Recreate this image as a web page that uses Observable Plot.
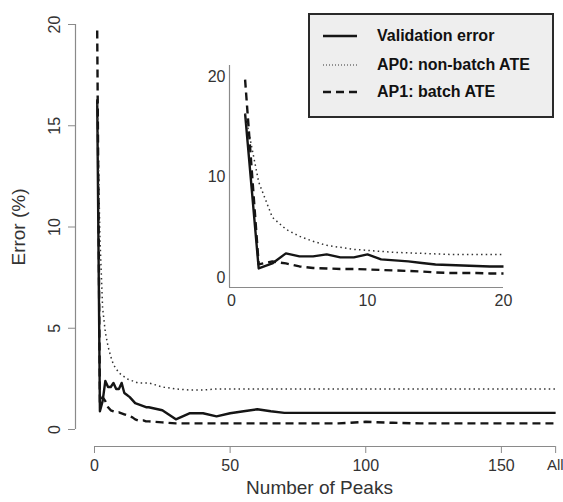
<!DOCTYPE html>
<html>
<head>
<meta charset="utf-8">
<script src="https://cdn.jsdelivr.net/npm/d3@7"></script>
<script src="https://cdn.jsdelivr.net/npm/@observablehq/plot@0.6"></script>
<style>
  html, body { margin: 0; padding: 0; background: #fff; }
  #wrap { position: relative; width: 563px; height: 502px; font-family: "Liberation Sans", Arial, sans-serif; }
  #wrap > svg, #wrap > .layer { position: absolute; left: 0; top: 0; }
  #legend { position: absolute; left: 308px; top: 13px; width: 242px; height: 101px; background: #eeeeee; border: 2px solid #2a2a2a; box-sizing: content-box; }
  #legend .row { position: absolute; left: 12px; height: 20px; display: flex; align-items: center; }
  #legend .row span { font-weight: bold; font-size: 16px; color: #111; margin-left: 19px; }
</style>
</head>
<body>
<div id="wrap"></div>
<script>
// ---- data ----
const peaks = [1,2,3,4,5,6,7,8,9,10,11,12,13,14,15,16,17,18,19,20,25,30,35,40,45,50,55,60,65,70,80,90,100,110,120,130,140,150,160,170];
const validationError = [16.3,0.9,1.4,2.4,2.1,2.1,2.3,2.0,2.0,2.3,1.8,1.7,1.6,1.45,1.3,1.25,1.2,1.15,1.1,1.1,0.95,0.5,0.8,0.8,0.65,0.8,0.9,1.0,0.9,0.82,0.82,0.82,0.82,0.82,0.82,0.82,0.82,0.82,0.82,0.82];
const ap0NonBatch = [16.3,9.5,6.0,4.8,4.1,3.6,3.2,3.0,2.8,2.7,2.6,2.5,2.45,2.4,2.35,2.3,2.3,2.3,2.3,2.3,2.1,2.0,1.95,1.95,2.0,2.0,2.0,2.0,2.0,2.0,2.0,2.0,2.0,2.0,2.0,2.0,2.0,2.0,2.0,2.0];
const ap1Batch = [19.7,1.3,1.6,1.4,1.1,0.95,0.9,0.85,0.85,0.8,0.75,0.7,0.65,0.6,0.5,0.45,0.45,0.45,0.4,0.4,0.35,0.3,0.3,0.3,0.3,0.3,0.3,0.3,0.3,0.3,0.3,0.3,0.38,0.33,0.3,0.3,0.3,0.3,0.3,0.3];
const seriesNames = ["Validation error", "AP0: non-batch ATE", "AP1: batch ATE"];
const mainXTicks = [0, 50, 100, 150, 170];
const mainXTickLabels = ["0", "50", "100", "150", "All"];
const mainYTicks = [0, 5, 10, 15, 20];
const insetXTicks = [0, 10, 20];
const insetYTicks = [0, 10, 20];

// ---- build rows ----
const seriesValues = [validationError, ap0NonBatch, ap1Batch];
const rows = [];
seriesNames.forEach((s, i) => peaks.forEach((p, j) => rows.push({series: s, peaks: p, value: seriesValues[i][j]})));
const styles = {
  "Validation error": {strokeWidth: 2.4, strokeDasharray: null, stroke: "#151515"},
  "AP0: non-batch ATE": {strokeWidth: 1.5, strokeDasharray: "1.5,3.2", stroke: "#333"},
  "AP1: batch ATE": {strokeWidth: 2.4, strokeDasharray: "8,5", stroke: "#151515"}
};
const axisColor = "#8a8a8a";
const textColor = "#333";

function lineMarks(data) {
  return seriesNames.map(s => Plot.line(data.filter(d => d.series === s), {
    x: "peaks", y: "value", stroke: styles[s].stroke,
    strokeWidth: styles[s].strokeWidth, strokeDasharray: styles[s].strokeDasharray,
    strokeLinejoin: "round", strokeLinecap: "butt"
  }));
}

// ---- main plot ----
const xMin = -7, xMax = 172.9, yMin = -0.84, yMax = 20.84;
const main = Plot.plot({
  width: 563, height: 502,
  marginLeft: 75, marginRight: 0, marginTop: 7, marginBottom: 56,
  style: {fontFamily: "Liberation Sans, Arial, sans-serif", background: "transparent"},
  x: {domain: [xMin, xMax]},
  y: {domain: [yMin, yMax]},
  marks: [
    Plot.ruleX([xMin], {y1: mainYTicks[0], y2: mainYTicks[mainYTicks.length - 1], stroke: axisColor, strokeWidth: 1.2}),
    Plot.ruleY([yMin], {x1: mainXTicks[0], x2: mainXTicks[mainXTicks.length - 1], stroke: axisColor, strokeWidth: 1.2}),
    Plot.axisY({ticks: mainYTicks, tickSize: 7, tickRotate: -90, tickPadding: 9, stroke: axisColor, fill: textColor, fontSize: 16,
      label: "Error (%)", labelAnchor: "center", labelOffset: 64, labelArrow: "none"}),
    Plot.axisX({ticks: mainXTicks, tickFormat: d => mainXTickLabels[mainXTicks.indexOf(d)], tickSize: 7, tickPadding: 6, stroke: axisColor, fill: textColor, fontSize: 16,
      label: "Number of Peaks", labelAnchor: "center", labelOffset: 47, labelArrow: "none"}),
    ...lineMarks(rows)
  ]
});
main.querySelectorAll("g[aria-label='y-axis label'] text, g[aria-label='x-axis label'] text").forEach(t => { t.style.fontSize = "19px"; t.setAttribute("fill", textColor); });
main.querySelectorAll("g[aria-label='x-axis tick label'] text").forEach(t => {
  if (t.textContent === "All") { t.setAttribute("text-anchor", "end"); t.setAttribute("dx", "8"); t.style.fontSize = "15px"; }
});
document.getElementById("wrap").appendChild(main);

// ---- inset plot ----
const ixMin = -0.147, ixMax = 20, iyMin = -0.995, iyMax = 21.1;
const inset = Plot.plot({
  width: 563, height: 502,
  marginLeft: 229, marginRight: 60, marginTop: 65, marginBottom: 215,
  style: {fontFamily: "Liberation Sans, Arial, sans-serif", background: "transparent"},
  x: {domain: [ixMin, ixMax]},
  y: {domain: [iyMin, iyMax]},
  marks: [
    Plot.ruleX([ixMin], {y1: iyMin, y2: iyMax, stroke: axisColor, strokeWidth: 1.2}),
    Plot.ruleY([iyMin], {x1: ixMin, x2: ixMax, stroke: axisColor, strokeWidth: 1.2}),
    Plot.axisY({ticks: insetYTicks, tickSize: 0, tickPadding: 4, fill: textColor, fontSize: 16, label: null}),
    Plot.axisX({ticks: insetXTicks, tickSize: 0, tickPadding: 7, fill: textColor, fontSize: 16, label: null}),
    ...lineMarks(rows.filter(d => d.peaks <= 20))
  ]
});
inset.classList.add("layer");
inset.style.position = "absolute"; inset.style.left = "0px"; inset.style.top = "0px";
document.getElementById("wrap").appendChild(inset);

// ---- legend ----
const legend = document.createElement("div");
legend.id = "legend";
seriesNames.forEach((s, i) => {
  const row = document.createElement("div");
  row.className = "row";
  row.style.top = [11, 40, 67][i] + "px";
  const sw = d3.create("svg").attr("width", 36).attr("height", 20);
  sw.append("line").attr("x1", 1).attr("x2", 35).attr("y1", 10).attr("y2", 10)
    .attr("stroke", styles[s].stroke).attr("stroke-width", s === seriesNames[1] ? 1.2 : styles[s].strokeWidth)
    .attr("stroke-dasharray", s === seriesNames[1] ? "1,2" : styles[s].strokeDasharray);
  row.appendChild(sw.node());
  const t = document.createElement("span");
  t.textContent = s;
  row.appendChild(t);
  legend.appendChild(row);
});
document.getElementById("wrap").appendChild(legend);
</script>
</body>
</html>
